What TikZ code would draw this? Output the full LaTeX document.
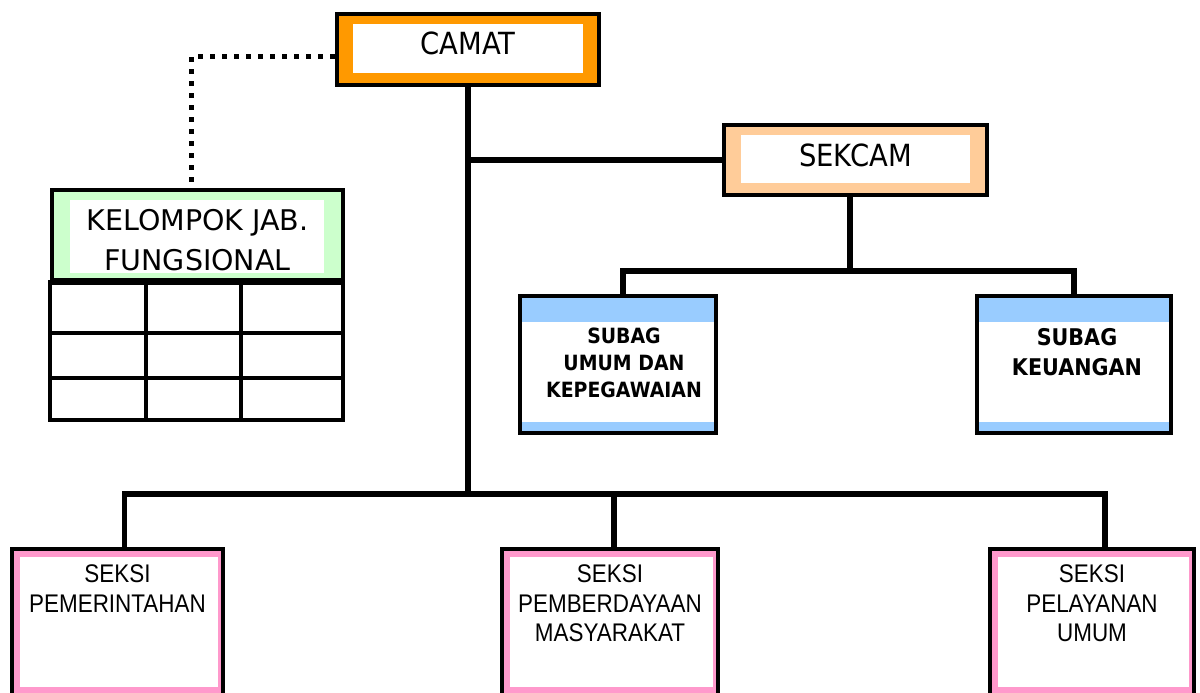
\documentclass[tikz,border=0pt]{standalone}
\usepackage{fontspec}
\setmainfont{DejaVu Sans}
\newfontfamily\narrowfont[FakeStretch=0.9]{DejaVu Sans}
\newfontfamily\arialnarrow[FakeStretch=0.88]{Liberation Sans}
\usepackage{tikz}
\usetikzlibrary{positioning}
\definecolor{camatorange}{HTML}{FF9900}
\definecolor{sekcampeach}{HTML}{FFCC99}
\definecolor{fungsigreen}{HTML}{CCFFCC}
\definecolor{subagblue}{HTML}{99CCFF}
\definecolor{seksipink}{HTML}{FF99CC}
\tikzset{
orgline/.style={line width=5.5pt}, % solid lines of the chart
dotline/.style={line width=5pt, dash pattern=on 5pt off 7pt}, % dotted line to the functional group
unitbox/.style={draw, line width=4.5pt, inner sep=0pt}, % black frame of every unit
whiteinset/.style n args={4}{path picture={\fill[white] ([xshift=#1,yshift=-#2]path picture bounding box.north west) rectangle ([xshift=-#3,yshift=#4]path picture bounding box.south east);}}, % white field inside the coloured frame
camatbox/.style={unitbox, fill=camatorange, whiteinset={16pt}{10pt}{16pt}{12pt}},
sekcambox/.style={unitbox, fill=sekcampeach, whiteinset={17pt}{10pt}{17pt}{12pt}},
fungsibox/.style={unitbox, fill=fungsigreen, whiteinset={18pt}{10pt}{19pt}{7pt}},
subagbox/.style={unitbox, fill=white, path picture={
    \fill[subagblue] (path picture bounding box.north west) rectangle ([yshift=-26pt]path picture bounding box.north east);
    \fill[subagblue] (path picture bounding box.south west) rectangle ([yshift=11pt]path picture bounding box.south east);}},
seksibox/.style={unitbox, fill=seksipink, whiteinset={8pt}{8pt}{5pt}{10pt}},
label text/.style={inner sep=0pt, outer sep=0pt, align=center}, % text put below the top of a box
gridline/.style={line width=4.5pt},
}
\begin{document}
\begin{tikzpicture}[x=1pt, y=-1pt]
\useasboundingbox (0,0) rectangle (1200,693);

% boxes
\node[camatbox, minimum width=262pt, minimum height=71pt] (camat) at (468,49.5) {};
\node[sekcambox, minimum width=263pt, minimum height=70pt] (sekcam) at (855.5,160) {};
\node[fungsibox, minimum width=291pt, minimum height=90pt] (fungsional) at (197.5,235) {};
\node[subagbox, minimum width=196pt, minimum height=137pt] (subag1) at (618,364.5) {};
\node[subagbox, minimum width=194pt, minimum height=137pt] (subag2) at (1074,364.5) {};
\node[seksibox, minimum width=211pt, minimum height=148pt] (seksi1) at (117.5,623) {};
\node[seksibox, minimum width=216pt, minimum height=148pt] (seksi2) at (610,623) {};
\node[seksibox, minimum width=204pt, minimum height=148pt] (seksi3) at (1092,623) {};

% texts
\node[label text, font=\narrowfont\fontsize{30.5}{36}\selectfont, below=20.5pt of camat.north] (camattext) {CAMAT};
\node[label text, font=\narrowfont\fontsize{30.5}{36}\selectfont, below=21.5pt of sekcam.north] (sekcamtext) {SEKCAM};
\node[label text, font=\fontsize{28.5}{40}\selectfont, below=22pt of fungsional.north] (fungsitext) {KELOMPOK JAB.\\FUNGSIONAL};
\node[label text, font=\narrowfont\bfseries\fontsize{21}{27}\selectfont, below=34.5pt of subag1.north, xshift=6pt] (subag1text) {SUBAG\\UMUM DAN\\KEPEGAWAIAN};
\node[label text, font=\narrowfont\bfseries\fontsize{23}{30}\selectfont, below=34.5pt of subag2.north, xshift=3pt] (subag2text) {SUBAG\\KEUANGAN};
\node[label text, font=\arialnarrow\fontsize{25.5}{29.5}\selectfont, below=18pt of seksi1.north] (seksi1text) {SEKSI\\PEMERINTAHAN};
\node[label text, font=\arialnarrow\fontsize{25.5}{29.5}\selectfont, below=18pt of seksi2.north] (seksi2text) {SEKSI\\PEMBERDAYAAN\\MASYARAKAT};
\node[label text, font=\arialnarrow\fontsize{25.5}{29.5}\selectfont, below=18pt of seksi3.north] (seksi3text) {SEKSI\\PELAYANAN\\UMUM};

% table of the functional group
\coordinate (gridend) at (343,420);
\draw[gridline] (fungsional.south west) rectangle (gridend);
\foreach \y in {333,378}
    \draw[gridline] (52,\y) -- (343,\y);
\foreach \x in {146,241}
    \draw[gridline] (\x,280) -- (\x,420);

% connectors
\coordinate (seksibus) at (469,494);
\coordinate (subagbus) at (850,271);
\draw[dotline] ([yshift=-7.5pt]camat.west) -| ([xshift=-6.5pt]fungsional.north);
\draw[orgline] (camat.south) -- (camat.south |- seksibus);
\draw[orgline] (camat.south |- sekcam.west) -- (sekcam.west);
\draw[orgline] (sekcam.south -| subagbus) -- (subagbus);
\draw[orgline] ([xshift=5pt]subag1.north) |- (subag2.north |- subagbus) -- (subag2.north);
\draw[orgline] ([xshift=7pt]seksi1.north) |- ([xshift=13pt]seksi3.north |- seksibus) -- ([xshift=13pt]seksi3.north);
\draw[orgline] ([xshift=4pt]seksi2.north |- seksibus) -- ([xshift=4pt]seksi2.north);
\end{tikzpicture}
\end{document}
